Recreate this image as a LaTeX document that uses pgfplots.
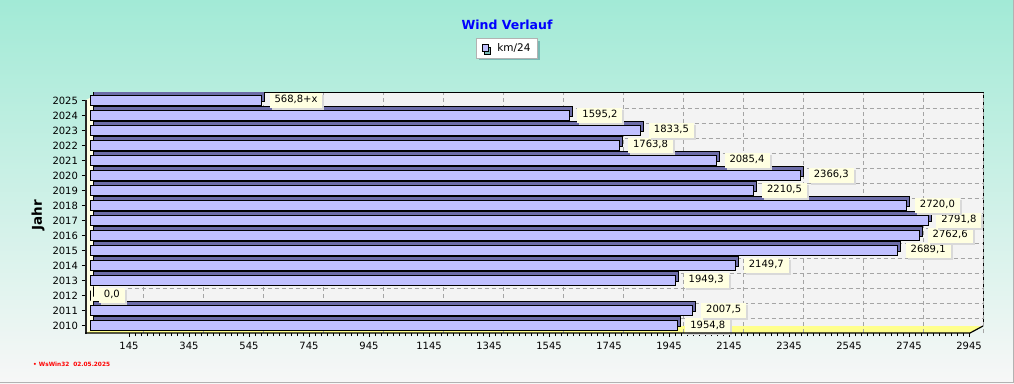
\documentclass[border=0pt]{standalone}
\usepackage{pgfplots}
\pgfplotsset{compat=1.18}
\usepackage{pgfplotstable}
\usepackage{fontspec}
\setmainfont{DejaVu Sans}
\definecolor{barfill}{RGB}{192,192,255}
\definecolor{bartop}{RGB}{108,108,168}
\definecolor{mint}{RGB}{162,234,214}
\definecolor{midbg}{RGB}{214,238,230}
\definecolor{lowbg}{RGB}{247,247,247}
\definecolor{labfill}{RGB}{255,255,225}
\definecolor{floorc}{RGB}{255,255,140}
\definecolor{lwall}{RGB}{255,255,228}
\definecolor{bwall}{RGB}{243,243,243}
\definecolor{gridc}{RGB}{165,165,165}
\definecolor{legshadow}{RGB}{120,185,180}

\pgfplotstableread{
year value label
2010 1954.8 1954,8
2011 2007.5 2007,5
2012 0.0 0,0
2013 1949.3 1949,3
2014 2149.7 2149,7
2015 2689.1 2689,1
2016 2762.6 2762,6
2017 2791.8 2791,8
2018 2720.0 2720,0
2019 2210.5 2210,5
2020 2366.3 2366,3
2021 2085.4 2085,4
2022 1763.8 1763,8
2023 1833.5 1833,5
2024 1595.2 1595,2
2025 568.8 568,8+x
}\windtable

\begin{document}
\begin{tikzpicture}[x=1pt,y=1pt]
\useasboundingbox (0,0) rectangle (1014,383);
\shade[top color=mint, middle color=midbg, bottom color=lowbg] (0,0) rectangle (1014,383);
\draw[gray!60, line width=1pt] (0,0.5) -- (1013.5,0.5) -- (1013.5,383);
% walls and floor
\fill[bwall] (99,57) rectangle (983,290);
\draw[black, line width=1pt] (99,290) -- (983,290) -- (983,57);
\fill[lwall] (86,50) -- (86,283) -- (99,290) -- (99,57) -- cycle;
\fill[floorc] (86,50) -- (970,50) -- (983,57) -- (99,57) -- cycle;
\begin{axis}[
  at={(85.5pt,50pt)}, anchor=south west, scale only axis,
  width=883.5pt, height=240pt,
  xmin=0, xmax=2945, ymin=2009.5, ymax=2025.5,
  axis lines*=left, axis line style={draw=none},
  xtick={145,345,...,2945}, minor x tick num=9,
  ytick={2010,...,2025},
  extra y ticks={2010.5,2011.5,...,2024.5},
  extra y tick labels={},
  extra y tick style={grid=major, major tick length=0pt},
  xmajorgrids,
  grid style={gridc, dash pattern=on 4pt off 3pt, line width=0.7pt, xshift=14pt},
  tick align=outside, major tick length=4pt, minor tick length=3pt,
  tick style={black, line width=0.7pt},
  /pgf/number format/1000 sep={},
  /pgf/number format/assume math mode=true,
  ticklabel style={font=\fontsize{10}{12}\selectfont},
  xticklabel style={yshift=-2pt},
  legend style={at={(0.4771,1.1875)}, anchor=center, fill=white, draw=gray!60,
    font=\fontsize{10.5}{12}\selectfont, inner xsep=5pt, inner ysep=3pt,
    preaction={fill=legshadow, transform canvas={xshift=2.5pt, yshift=-2.5pt}}},
  legend image code/.code={\draw[fill=barfill, draw=black, line width=0.8pt] (0pt,-3.5pt) rectangle (6pt,3.5pt); \path (13pt,0pt);},
]
\addplot[xbar, bar width=10pt, bar shift=4pt, xshift=8pt, fill=bartop, draw=black, line width=0.7pt, forget plot]
  table[x=value, y=year]{\windtable};
\addplot[xbar, bar width=10pt, bar shift=0pt, xshift=5pt, fill=barfill, draw=black, line width=0.8pt,
  point meta=explicit symbolic, nodes near coords,
  nodes near coords style={anchor=west, xshift=8pt, draw=none, fill=labfill, text=black,
    font=\fontsize{10}{12}\selectfont, inner xsep=5pt, inner ysep=2.5pt,
    text height=7.5pt, text depth=2.5pt,
    preaction={draw=none, fill=gray!30, transform canvas={xshift=2pt, yshift=-2pt}}}]
  table[x=value, y=year, meta=label]{\windtable};
\addlegendentry{km/24}
\end{axis}
\draw[black!85, line width=2pt] (86,49) -- (86,283);
\draw[black, line width=1.2pt] (85,50) -- (970,50) -- (983,57);
\node[font=\bfseries\fontsize{12.5}{14}\selectfont, text=blue] at (507,358) {Wind Verlauf};
\node[rotate=90, font=\bfseries\fontsize{13.5}{15}\selectfont] at (38,168) {Jahr};
\node[anchor=west, font=\bfseries\fontsize{5.8}{6}\selectfont, text=red, inner sep=0pt] at (33,19) {• WsWin32\ \ 02.05.2025};
\end{tikzpicture}
\end{document}
